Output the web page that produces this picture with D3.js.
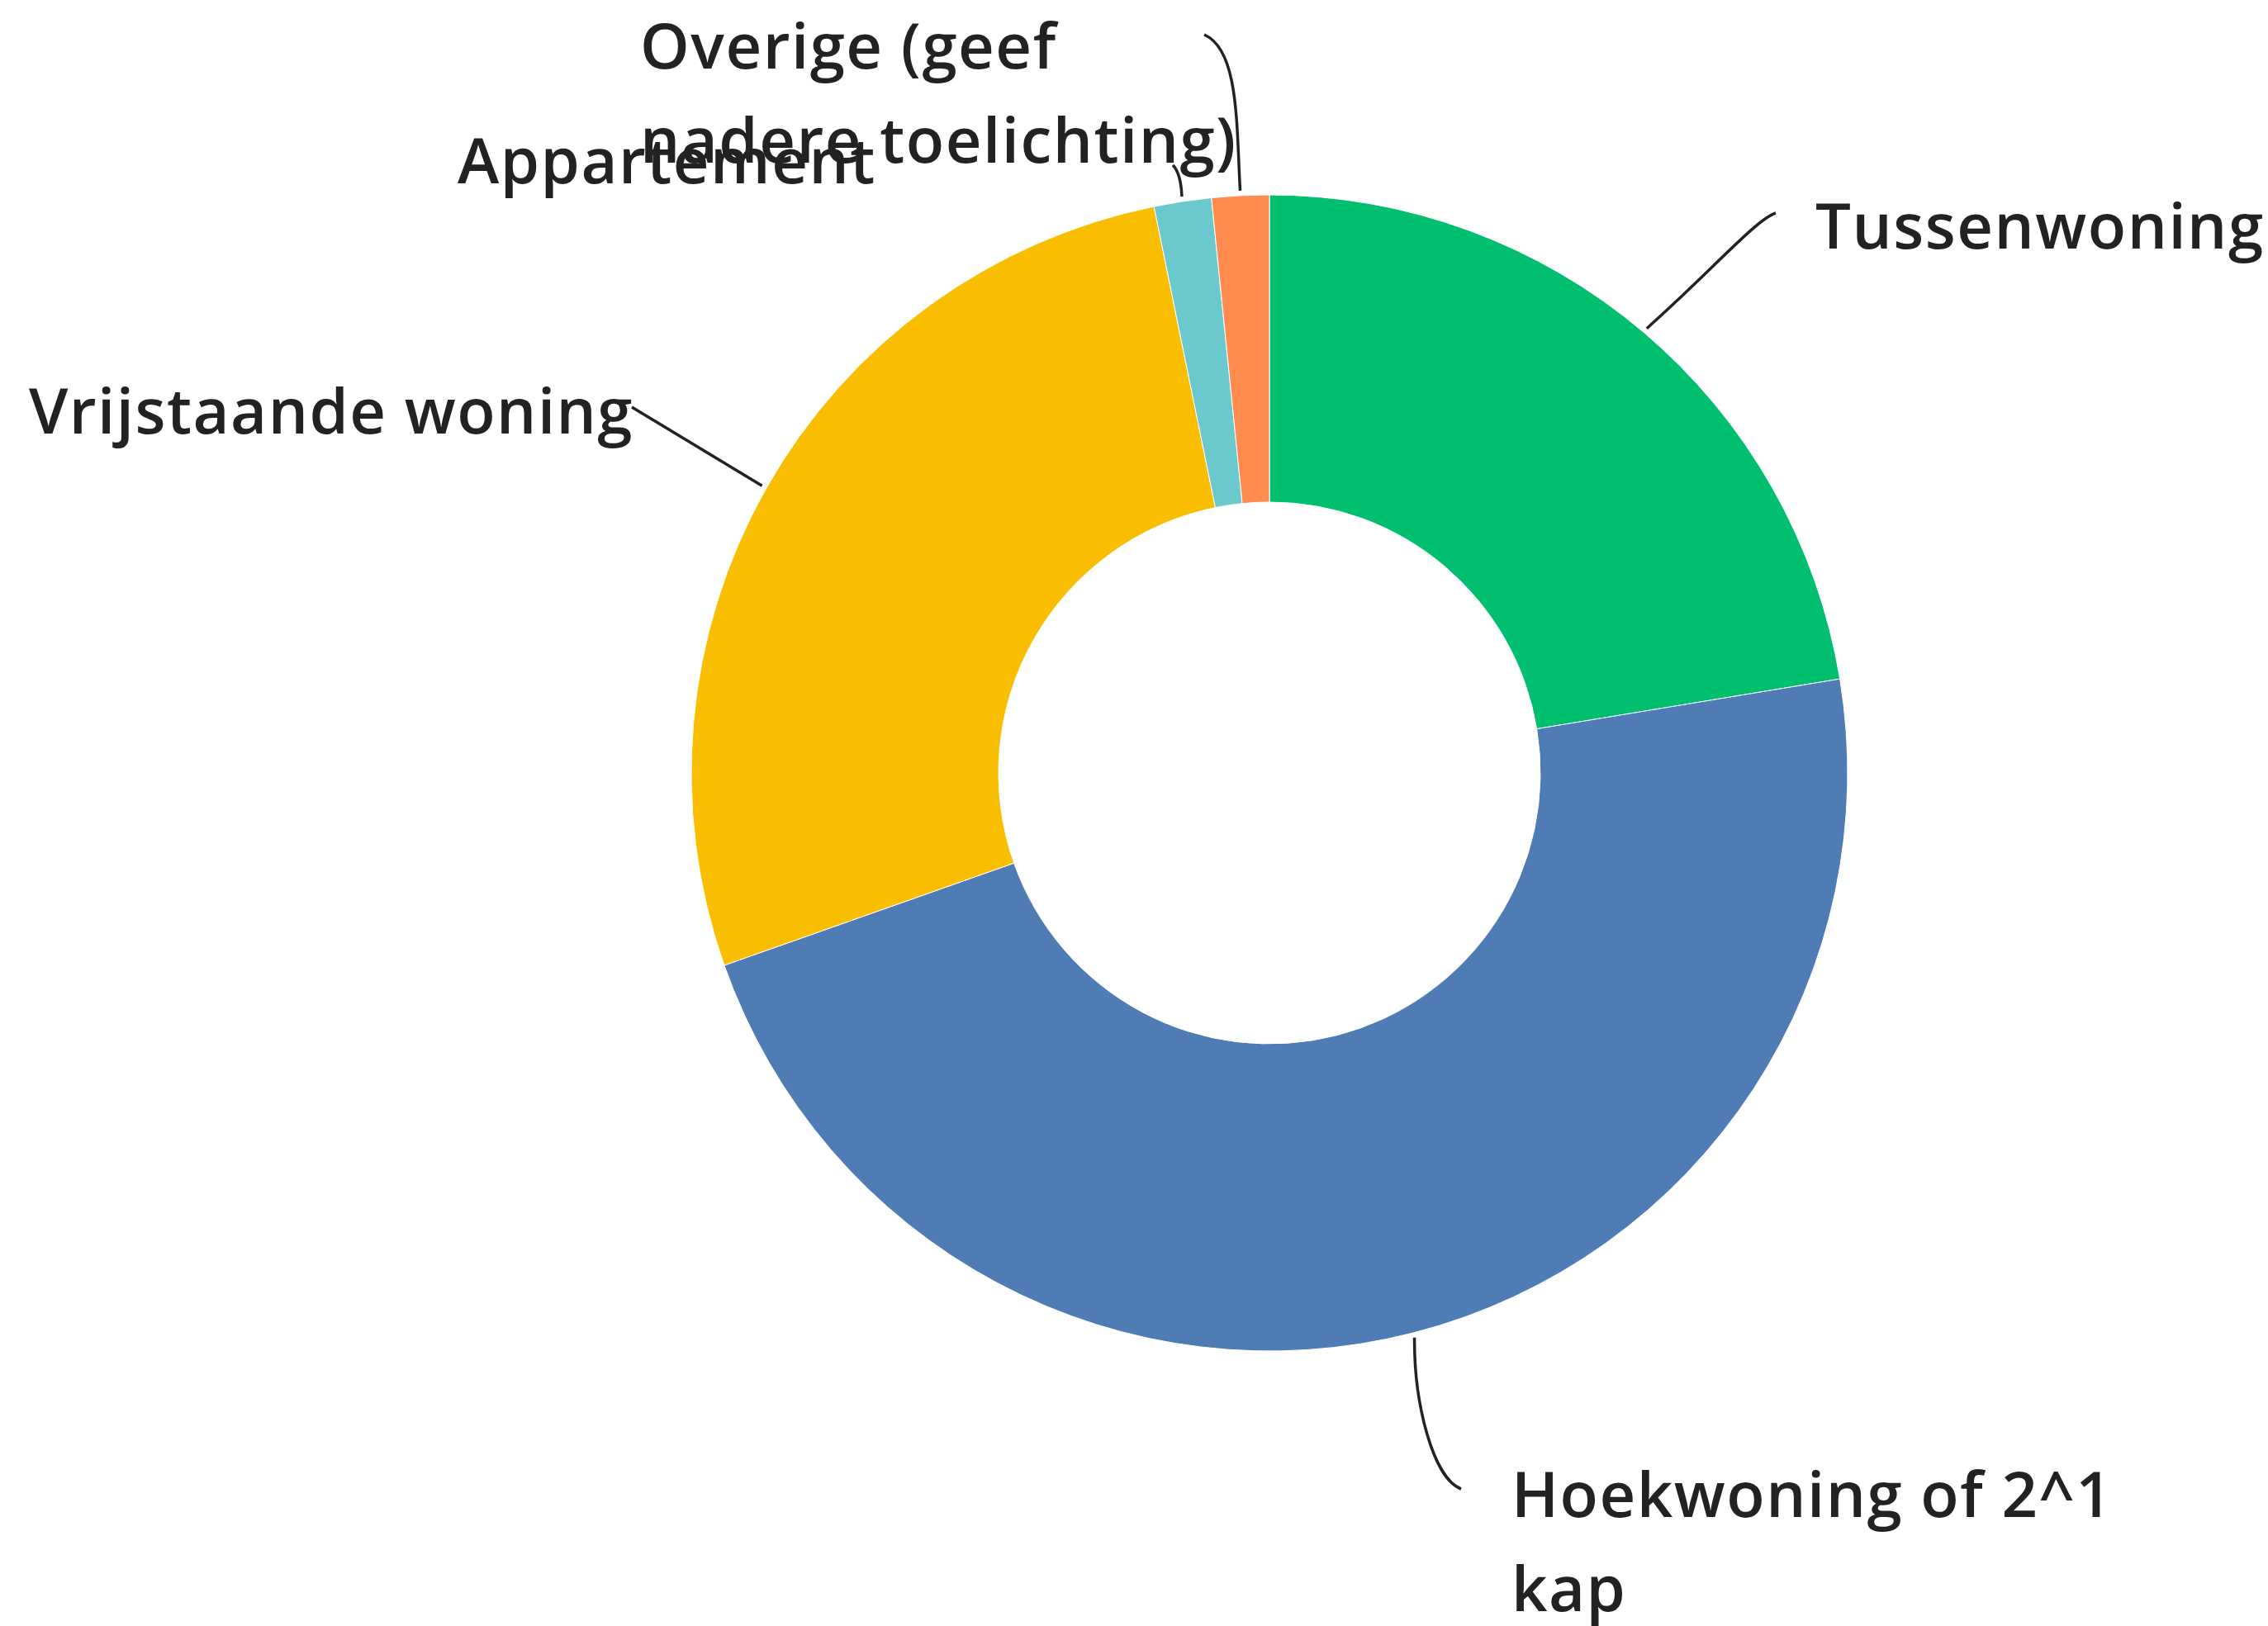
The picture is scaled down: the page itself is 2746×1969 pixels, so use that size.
<!DOCTYPE html>
<html>
<head>
<meta charset="utf-8">
<script src="https://cdn.jsdelivr.net/npm/d3@7"></script>
<style>
  html, body { margin: 0; padding: 0; background: #fff; overflow: hidden; }
</style>
</head>
<body>
<div id="chart"></div>
<script>
// answer categories and their share (%)
var categories = ["Tussenwoning", "Hoekwoning of 2^1 kap", "Vrijstaande woning", "Appartement", "Overige (geef nadere toelichting)"];
var shares = [22.4, 47.2, 27.2, 1.6, 1.6];
var colours = ["#00bf6f", "#507cb6", "#f9be00", "#6bc8cd", "#ff8b4f"];

// label text as drawn (line breaks)
var labelLines = [
  ["Tussenwoning"],
  ["Hoekwoning of 2^1", "kap"],
  ["Vrijstaande woning"],
  ["Appartement"],
  ["Overige (geef", "nadere toelichting)"]
];

(function () {
  var width = 2746,
      height = 1969,
      cx = 1537,
      cy = 936,
      outerR = 700,
      innerR = 328;

  var svg = d3.select("#chart")
    .append("svg")
    .attr("width", width)
    .attr("height", height)
    .append("g")
    .attr("transform", "translate(" + cx + "," + cy + ")");

  var data = categories.map(function (c, i) {
    return { name: c, value: shares[i], colour: colours[i], lines: labelLines[i] };
  });

  var pie = d3.pie()
    .sort(null)
    .value(function (d) { return d.value; });

  var arc = d3.arc()
    .innerRadius(innerR)
    .outerRadius(outerR);

  var arcs = pie(data);

  svg.selectAll(".slice")
    .data(arcs)
    .enter().append("path")
    .attr("class", "slice")
    .attr("d", arc)
    .attr("fill", function (d) { return d.data.colour; })
    .attr("stroke", "#fff")
    .attr("stroke-width", 1);

  // label placement (page coordinates, made relative to centre below)
  var layout = [
    { c1: [2070, 330], c2: [2128, 264], end: [2150, 258], tx: 2198, ty: 301, anchor: "start" },
    { c1: [1712, 1700], c2: [1735, 1790], end: [1769, 1803], tx: 1830, ty: 1837, anchor: "start" },
    { c1: null, c2: null, end: [765, 493], tx: 767, ty: 525, anchor: "end" },
    { c1: [1430, 215], c2: [1425, 205], end: [1420, 200], tx: 554, ty: 222, anchor: "start" },
    { c1: [1497, 150], c2: [1500, 60], end: [1458, 42], tx: 775, ty: 83, anchor: "start" }
  ];
  var lineHeight = 114;

  function rel(p) { return [p[0] - cx, p[1] - cy]; }

  svg.selectAll(".leader")
    .data(arcs)
    .enter().append("path")
    .attr("class", "leader")
    .attr("fill", "none")
    .attr("stroke", "#222")
    .attr("stroke-width", 3.5)
    .attr("d", function (d, i) {
      var mid = (d.startAngle + d.endAngle) / 2;
      var s = d3.pointRadial(mid, outerR + 6);
      var L = layout[i];
      var e = rel(L.end);
      var p = d3.path();
      p.moveTo(s[0], s[1]);
      if (L.c1) {
        var a = rel(L.c1), b = rel(L.c2);
        p.bezierCurveTo(a[0], a[1], b[0], b[1], e[0], e[1]);
      } else {
        p.lineTo(e[0], e[1]);
      }
      return p.toString();
    });

  var labels = svg.selectAll(".label")
    .data(arcs)
    .enter().append("text")
    .attr("class", "label")
    .attr("font-family", "'Open Sans', 'Noto Sans', sans-serif")
    .attr("font-weight", 600)
    .attr("font-size", 76)
    .attr("letter-spacing", 1.5)
    .attr("fill", "#222")
    .attr("text-anchor", function (d, i) { return layout[i].anchor; })
    .attr("transform", function (d, i) {
      return "translate(" + (layout[i].tx - cx) + "," + (layout[i].ty - cy) + ")";
    });

  labels.selectAll("tspan")
    .data(function (d) { return d.data.lines; })
    .enter().append("tspan")
    .attr("x", 0)
    .attr("y", function (d, j) { return j * lineHeight; })
    .text(function (d) { return d; });
})();
</script>
</body>
</html>
